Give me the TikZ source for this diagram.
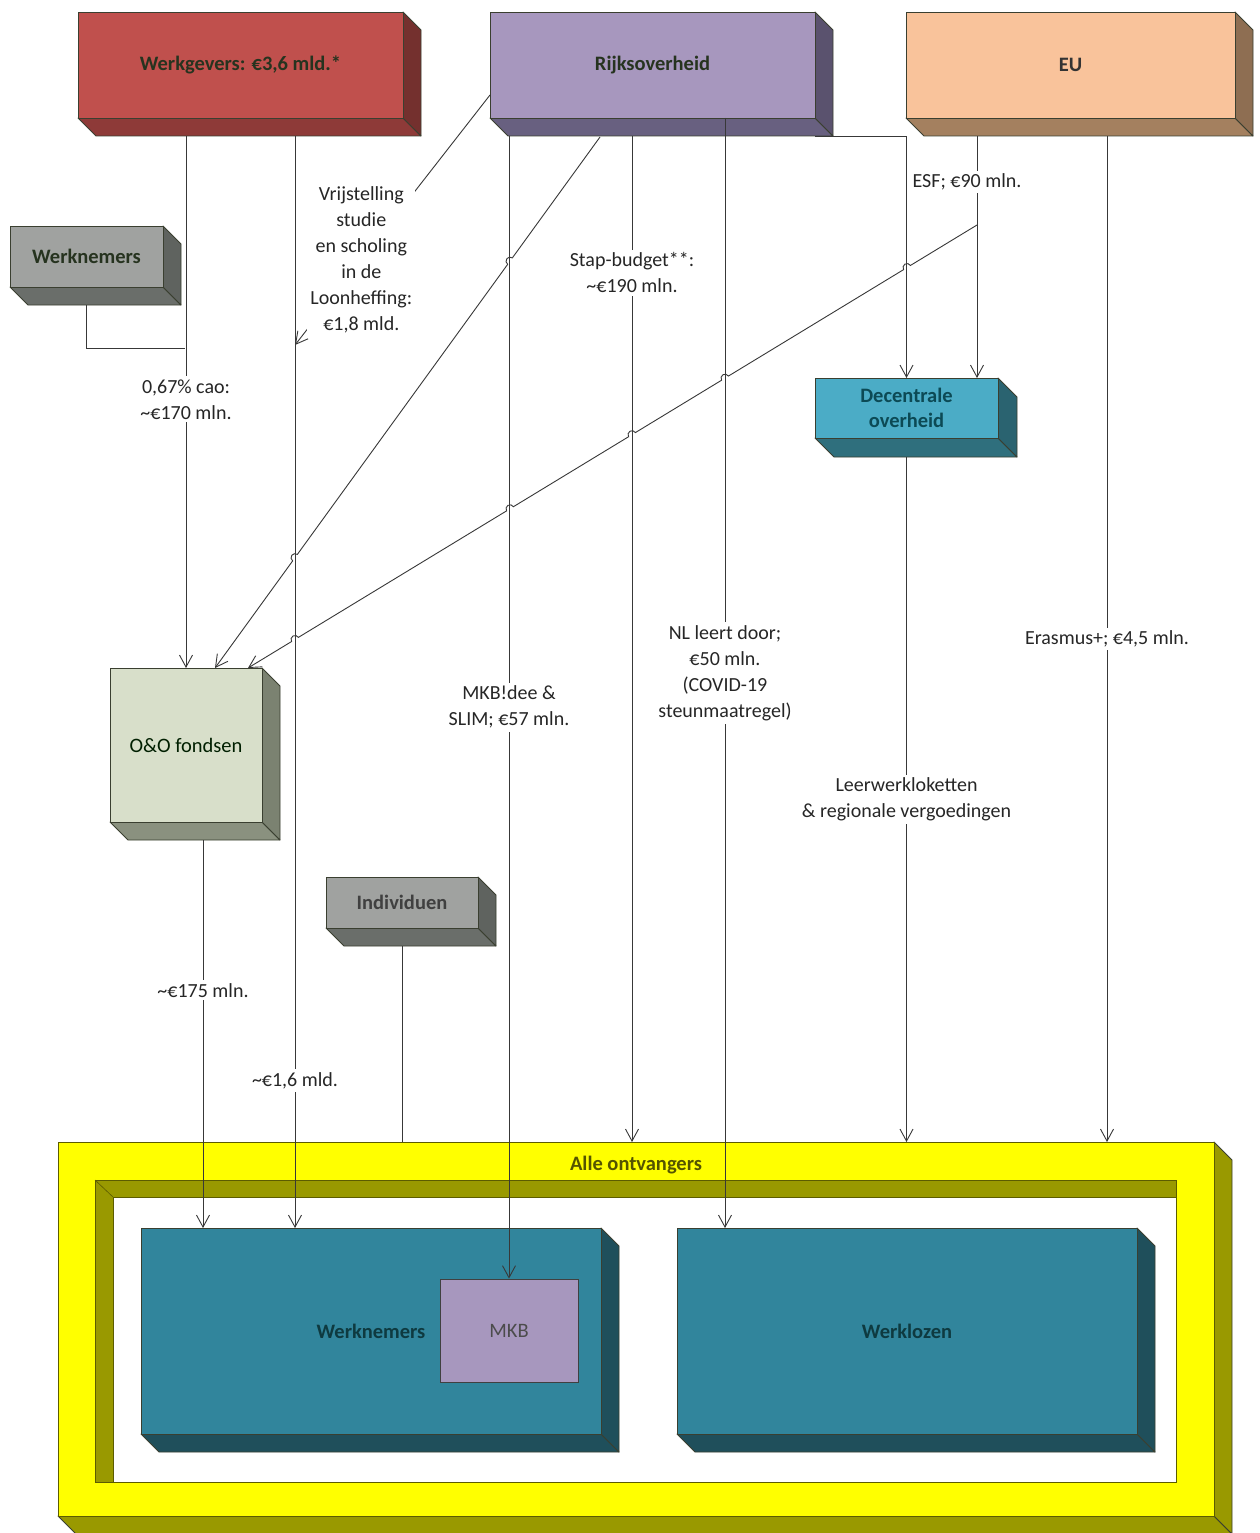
\documentclass[tikz,border=0pt]{standalone}
\usepackage{fontspec}
\setmainfont{Carlito}
\usetikzlibrary{arrows.meta,calc}
\definecolor{redF}{HTML}{C0504D}\definecolor{redB}{HTML}{8E3A38}\definecolor{redR}{HTML}{74302E}
\definecolor{purF}{HTML}{A797BE}\definecolor{purB}{HTML}{686080}\definecolor{purR}{HTML}{5A526E}
\definecolor{peaF}{HTML}{F9C39B}\definecolor{peaB}{HTML}{A4805F}\definecolor{peaR}{HTML}{8E6E52}
\definecolor{gryF}{HTML}{A0A2A0}\definecolor{gryB}{HTML}{6A6E6A}\definecolor{gryR}{HTML}{5F635F}
\definecolor{cyaF}{HTML}{4BACC6}\definecolor{cyaB}{HTML}{2F6F7D}\definecolor{cyaR}{HTML}{2A6370}
\definecolor{sagF}{HTML}{D8DFCA}\definecolor{sagB}{HTML}{8A917F}\definecolor{sagR}{HTML}{7B8271}
\definecolor{yelF}{HTML}{FFFF00}\definecolor{yelB}{HTML}{999900}\definecolor{yelR}{HTML}{999900}
\definecolor{tealF}{HTML}{31859C}\definecolor{tealB}{HTML}{1F4F5B}\definecolor{tealR}{HTML}{1F4F5B}
\definecolor{edge}{HTML}{3A3F30}
\definecolor{txtA}{HTML}{26331F}
\definecolor{txtT}{HTML}{0E3A40}
\definecolor{txtC}{HTML}{0C4A55}
\tikzset{
  conn/.style={draw=black!78, line width=0.9pt},
  arr/.style={conn, -{Straight Barb[length=12pt,width=13pt]}},
  lbl/.style={fill=white, text=black!85, font=\fontsize{20}{26}\selectfont, align=center, inner sep=3pt},
  face/.style={draw=edge, line width=0.8pt, line join=round},
  boxtxt/.style={font=\fontsize{20.5}{25}\selectfont\bfseries, align=center, text=txtA},
}
% name, x1, y1, x2, y2, depth, colour set, text options, text
\newcommand{\cube}[9]{%
  \fill[#7B, face] (#2,#5) -- (#4,#5) -- ($(#4,#5)+(#6,#6)$) -- ($(#2,#5)+(#6,#6)$) -- cycle;
  \fill[#7R, face] (#4,#3) -- ($(#4,#3)+(#6,#6)$) -- ($(#4,#5)+(#6,#6)$) -- (#4,#5) -- cycle;
  \node[face, fill=#7F, minimum width={(#4)-(#2)}, minimum height={(#5)-(#3)},
        inner sep=0pt, outer sep=0pt, #8] (#1) at ({((#2)+(#4))/2},{((#3)+(#5))/2}) {#9};
  \coordinate (#1-bot) at ({((#2)+(#4))/2},{(#5)+(#6)});
}
\begin{document}
\begin{tikzpicture}[x=1pt,y=-1pt]
\useasboundingbox (0,0) rectangle (1259,1533);
\fill[white] (0,0) rectangle (1259,1533);

% ---------- boxes ----------
\cube{wg}{78}{12}{403}{118}{18}{red}{boxtxt}{Werkgevers: €3,6 mld.*}
\cube{rk}{490}{12}{815}{118}{18}{pur}{boxtxt}{Rijksoverheid}
\cube{eu}{906}{12}{1235}{118}{18}{pea}{boxtxt, text=black!80}{EU}
\cube{wn}{10}{226}{163}{287}{18}{gry}{boxtxt, text=txtA}{Werknemers}
\cube{dc}{815}{378}{998}{438}{19}{cya}{boxtxt, text=txtC}{Decentrale\\overheid}
\cube{oo}{110}{668}{262}{822}{18}{sag}{boxtxt, font=\fontsize{20.5}{25}\selectfont, text=black!70!green!40!black}{O\&O fondsen}
\cube{ind}{326}{877}{478}{928}{18}{gry}{boxtxt, text=black!75}{Individuen}

% ---------- recipients ----------
\cube{yel}{58}{1142}{1214}{1516}{18}{yel}{draw=yelB!60!black}{}
\node[font=\fontsize{20.5}{25}\selectfont\bfseries, text=yelB!55!black] (allelbl) at ($(yel.north)+(0,23)$) {Alle ontvangers};
\fill[yelB, draw=yelB!60!black, line width=0.6pt] (95,1180) -- (1176,1180) -- (1176,1197) -- (113,1197) -- (113,1482) -- (95,1482) -- cycle;
\fill[white, draw=yelB!60!black, line width=0.6pt] (113,1197) rectangle (1176,1482);
\draw[yelB!60!black, line width=0.6pt] (95,1180) -- (113,1197);
\cube{tw}{141}{1228}{601}{1434}{18}{teal}{boxtxt, text=txtT}{Werknemers}
\cube{wl}{677}{1228}{1137}{1434}{18}{teal}{boxtxt, text=txtT}{Werklozen}
\node[draw=black!75, line width=0.8pt, fill=purF, minimum width=138pt, minimum height=103pt,
      inner sep=0pt, font=\fontsize{20.5}{25}\selectfont, text=black!70] (mkb) at (509,1330.5) {MKB};

% ---------- helper coordinates ----------
\coordinate (t203) at (203,0);
\coordinate (t295) at (295,0);
\coordinate (t632) at (632,0);
\coordinate (t725) at (725,0);
\coordinate (t815) at (815,0);
\coordinate (t977) at (977,0);
\coordinate (t1107) at (1107,0);
\coordinate (wnj) at (185,348);
\coordinate (vrij) at (295,345);
\coordinate (rkd) at (600,137);
\coordinate (ooin1) at (215,668);
\coordinate (esfj) at (977,225);
\coordinate (ooin2) at (248,668);
\coordinate (h1) at (510,261.13);
\coordinate (h2) at (295,557.66);
\coordinate (g1) at (907,267.54);
\coordinate (g2) at (725,378.14);
\coordinate (g3) at (632,434.65);
\coordinate (g4) at (510,508.79);
\coordinate (g5) at (295,639.44);

% ---------- diagonal connectors with line jumps ----------
\draw[arr] (rkd) -- ($(h1)+(54.06:4pt)$) arc[start angle=54.06,end angle=234.06,radius=4pt]
  -- ($(h2)+(54.06:4pt)$) arc[start angle=54.06,end angle=234.06,radius=4pt] -- (ooin1);
\draw[arr] (esfj)
  -- ($(g1)+(31.28:4pt)$) arc[start angle=31.28,end angle=211.28,radius=4pt]
  -- ($(g2)+(31.28:4pt)$) arc[start angle=31.28,end angle=211.28,radius=4pt]
  -- ($(g3)+(31.28:4pt)$) arc[start angle=31.28,end angle=211.28,radius=4pt]
  -- ($(g4)+(31.28:4pt)$) arc[start angle=31.28,end angle=211.28,radius=4pt]
  -- ($(g5)+(31.28:4pt)$) arc[start angle=31.28,end angle=211.28,radius=4pt]
  -- (ooin2);

% ---------- vertical connectors ----------
\draw[arr] (wg-bot -| oo.north) -- node[lbl,pos=0.495]{0,67\% cao:\\\textasciitilde€170 mln.} (oo.north);
\draw[conn] (wn-bot) -- (wn-bot |- wnj) -- (wnj);
\draw[arr] (wg-bot -| t295) -- node[lbl,pos=0.865]{\textasciitilde€1,6 mld.} (tw.north -| t295);
\draw[arr] ($(rk.south west)+(0,-23)$) -- node[lbl,pos=0.66]{Vrijstelling\\studie\\en scholing\\in de\\Loonheffing:\\€1,8 mld.} (vrij);
\draw[arr] (rk-bot -| mkb.north) -- node[lbl,pos=0.5]{MKB!dee \&\\SLIM; €57 mln.} (mkb.north);
\draw[arr] (rk-bot -| t632) -- node[lbl,pos=0.136]{Stap-budget**:\\\textasciitilde€190 mln.} (yel.north -| t632);
\draw[arr] (rk.south -| t725) -- node[lbl,pos=0.5]{NL leert door;\\€50 mln.\\(COVID-19\\steunmaatregel)} (wl.north -| t725);
\draw[arr] (eu-bot -| t977) -- node[lbl,pos=0.19,xshift=-10pt]{ESF; €90 mln.} (dc.north -| t977);
\draw[arr] (rk-bot -| t815) -- (rk-bot -| dc.north) -- (dc.north);
\draw[arr] (eu-bot -| t1107) -- node[lbl,pos=0.5]{Erasmus+; €4,5 mln.} (yel.north -| t1107);
\draw[arr] (dc-bot) -- node[lbl,pos=0.5]{Leerwerkloketten\\\& regionale vergoedingen} (yel.north -| dc-bot);
\draw[arr] (oo-bot -| t203) -- node[lbl,pos=0.387]{\textasciitilde€175 mln.} (tw.north -| t203);
\draw[conn] (ind-bot) -- (yel.north -| ind-bot);
\end{tikzpicture}
\end{document}
